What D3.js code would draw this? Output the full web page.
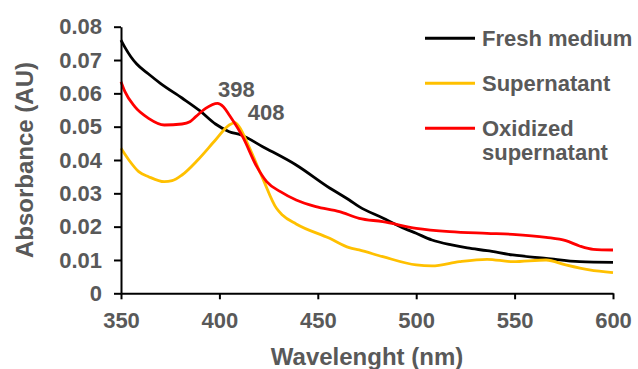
<!DOCTYPE html>
<html>
<head>
<meta charset="utf-8">
<script src="https://cdn.jsdelivr.net/npm/d3@7/dist/d3.min.js"></script>
<style>
  html, body { margin: 0; padding: 0; background: #fff; }
  svg { display: block; font-family: "Liberation Sans", Arial, sans-serif; }
</style>
</head>
<body>
<div id="chart"></div>
<script>
// Absorbance spectra
const seriesNames = ["Fresh medium", "Supernatant", "Oxidized supernatant"];
const seriesColors = ["#000000", "#ffc000", "#ff0000"];

const freshWl = [350, 352, 355, 358, 364, 370, 381, 390, 398, 405, 411, 422, 439, 456, 466, 471, 483, 492, 500, 508, 518, 526, 536, 549, 566, 583, 600];
const freshAbs = [0.0760, 0.0738, 0.0710, 0.0688, 0.0658, 0.0630, 0.0586, 0.0548, 0.0508, 0.0485, 0.0475, 0.0440, 0.0385, 0.0316, 0.0280, 0.0260, 0.0226, 0.0200, 0.0180, 0.0160, 0.0145, 0.0136, 0.0128, 0.0115, 0.0105, 0.0095, 0.0093];

const superWl = [350, 354, 359, 364, 372, 376, 381, 389, 398, 405, 408, 410, 415, 422, 429, 432, 439, 456, 466, 471, 483, 500, 508, 522, 536, 549, 566, 576, 588, 600];
const superAbs = [0.0435, 0.0400, 0.0365, 0.0350, 0.0335, 0.0338, 0.0355, 0.0400, 0.0460, 0.0505, 0.0512, 0.0500, 0.0440, 0.0345, 0.0255, 0.0235, 0.0208, 0.0165, 0.0137, 0.0130, 0.0110, 0.0085, 0.0082, 0.0095, 0.0102, 0.0095, 0.0100, 0.0085, 0.0070, 0.0062];

const oxWl = [350, 352, 357, 364, 372, 381, 385, 388, 393, 399, 402, 405, 412, 419, 424, 431, 439, 449, 461, 471, 483, 500, 517, 536, 549, 566, 576, 583, 590, 600];
const oxAbs = [0.0635, 0.0605, 0.0560, 0.0525, 0.0505, 0.0508, 0.0515, 0.0530, 0.0555, 0.0570, 0.0560, 0.0535, 0.0468, 0.0380, 0.0335, 0.0305, 0.0280, 0.0260, 0.0245, 0.0225, 0.0215, 0.0195, 0.0185, 0.0180, 0.0177, 0.0168, 0.0158, 0.0142, 0.0132, 0.0130];

const xTicks = [350, 400, 450, 500, 550, 600];
const yTicks = [0, 0.01, 0.02, 0.03, 0.04, 0.05, 0.06, 0.07, 0.08];
const peakLabels = ["398", "408"];
const peakWl = [398, 408];

(function () {
  const width = 638;
  const height = 369;
  const textColor = "#595959";
  const margin = { top: 26.7, right: 25, bottom: 75.7, left: 121 };

  const svg = d3
    .select("#chart")
    .append("svg")
    .attr("width", width)
    .attr("height", height);

  const x = d3.scaleLinear().domain([350, 600]).range([margin.left, width - margin.right]);
  const y = d3.scaleLinear().domain([0, 0.08]).range([height - margin.bottom, margin.top]);

  const series = [
    { wl: freshWl, abs: freshAbs },
    { wl: superWl, abs: superAbs },
    { wl: oxWl, abs: oxAbs },
  ];

  const line = d3
    .line()
    .x((d) => x(d[0]))
    .y((d) => y(d[1]))
    .curve(d3.curveMonotoneX);

  svg
    .append("g")
    .attr("fill", "none")
    .attr("stroke-width", 2.8)
    .attr("stroke-linejoin", "round")
    .selectAll("path")
    .data(series)
    .join("path")
    .attr("stroke", (d, i) => seriesColors[i])
    .attr("d", (d) => line(d.wl.map((w, i) => [w, d.abs[i]])));

  const xAxis = svg
    .append("g")
    .attr("transform", `translate(0,${y(0)})`)
    .call(d3.axisBottom(x).tickValues(xTicks).tickSize(6).tickSizeOuter(0).tickPadding(13));

  const yAxis = svg
    .append("g")
    .attr("transform", `translate(${x(350)},0)`)
    .call(
      d3
        .axisLeft(y)
        .tickValues(yTicks)
        .tickSize(7)
        .tickSizeOuter(0)
        .tickPadding(12)
        .tickFormat((d) => (d === 0 ? "0" : d3.format(".2f")(d)))
    );

  [xAxis, yAxis].forEach((ax) => {
    ax.select(".domain").attr("stroke", "#000").attr("stroke-width", 2);
    ax.selectAll(".tick line").attr("stroke", "#000").attr("stroke-width", 2);
    ax.selectAll(".tick text")
      .attr("fill", textColor)
      .attr("font-size", "22px")
      .attr("font-weight", "bold")
      .attr("font-family", "'Liberation Sans', Arial, sans-serif");
  });

  // axis titles
  svg
    .append("text")
    .attr("x", (x(350) + x(600)) / 2)
    .attr("y", 365)
    .attr("text-anchor", "middle")
    .attr("fill", textColor)
    .attr("font-size", "24px")
    .attr("font-weight", "bold")
    .text("Wavelenght (nm)");

  svg
    .append("text")
    .attr("transform", `translate(33,${(y(0) + y(0.08)) / 2}) rotate(-90)`)
    .attr("text-anchor", "middle")
    .attr("fill", textColor)
    .attr("font-size", "24px")
    .attr("font-weight", "bold")
    .text("Absorbance (AU)");

  // peak annotations, set to the right of their peaks
  const peakPos = [
    { dx: 21, yv: 0.0590 },
    { dx: 31, yv: 0.0520 },
  ];
  svg
    .append("g")
    .selectAll("text")
    .data(peakLabels)
    .join("text")
    .attr("x", (d, i) => x(peakWl[i]) + peakPos[i].dx)
    .attr("y", (d, i) => y(peakPos[i].yv))
    .attr("text-anchor", "middle")
    .attr("fill", textColor)
    .attr("font-size", "22px")
    .attr("font-weight", "bold")
    .text((d) => d);

  // legend
  const legend = svg.append("g").attr("transform", "translate(425,38.3)");
  const items = legend
    .selectAll("g")
    .data(seriesNames)
    .join("g")
    .attr("transform", (d, i) => `translate(0,${i * 45})`);

  items
    .append("line")
    .attr("x1", 0)
    .attr("x2", 50)
    .attr("stroke", (d, i) => seriesColors[i])
    .attr("stroke-width", 3);

  items
    .append("text")
    .attr("x", 57)
    .attr("y", 7.6)
    .attr("fill", textColor)
    .attr("font-size", "22px")
    .attr("font-weight", "bold")
    .each(function (d) {
      const words = d === "Oxidized supernatant" ? ["Oxidized", "supernatant"] : [d];
      d3.select(this)
        .selectAll("tspan")
        .data(words)
        .join("tspan")
        .attr("x", 57)
        .attr("dy", (w, j) => (j === 0 ? 0 : 24))
        .text((w) => w);
    });
})();
</script>
</body>
</html>
